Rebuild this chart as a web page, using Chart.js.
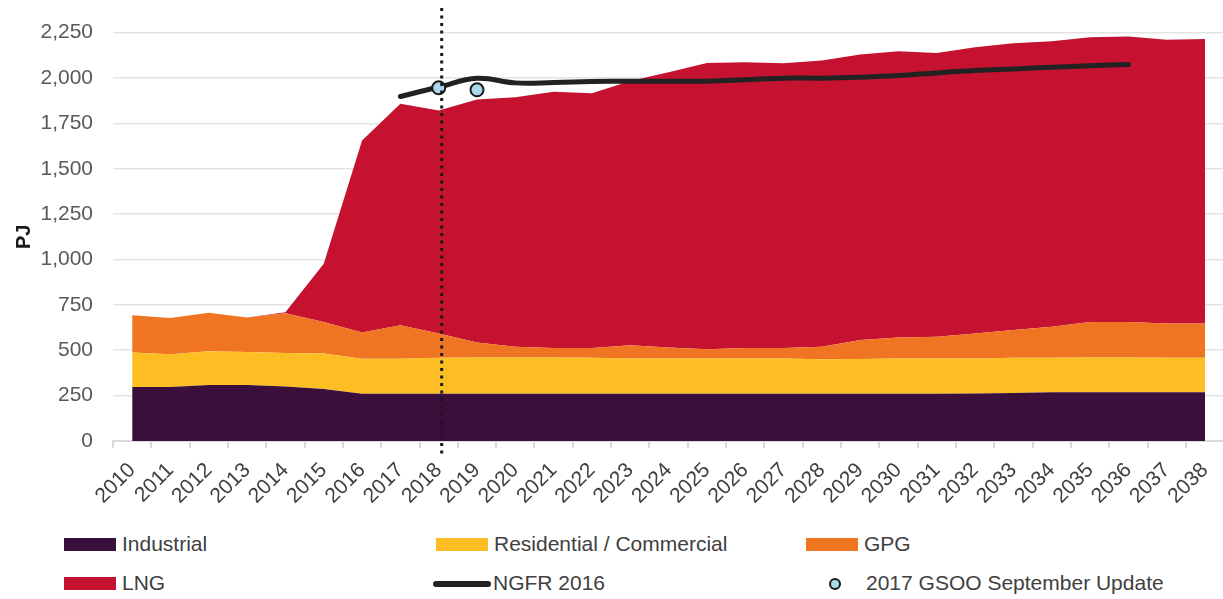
<!DOCTYPE html>
<html>
<head>
<meta charset="utf-8">
<script src="https://cdn.jsdelivr.net/npm/chart.js@4/dist/chart.umd.min.js"></script>
<style>
  body { margin: 0; background: #fff; font-family: "Liberation Sans", Arial, sans-serif; overflow: hidden; }
  #wrap { position: relative; width: 1223px; height: 599px; overflow: hidden; }
  #box { position: absolute; left: 0; top: 0; width: 1233px; height: 515px; }
  .lg { position: absolute; font-size: 21px; color: #404040; white-space: nowrap; line-height: 24px; }
  .sw { position: absolute; }
</style>
</head>
<body>
<div id="wrap">
  <div id="box"><canvas id="myChart"></canvas></div>
  <div id="legend"></div>
</div>
<script>
const years = [];
for (let y = 2010; y <= 2038; y++) years.push(String(y));

const industrial = [297, 297, 308, 308, 300, 286, 260, 260, 260, 260, 260, 260, 260, 260, 260, 260, 260, 260, 260, 260, 260, 260, 262, 265, 268, 268, 268, 268, 268];
const residential = [191, 181, 187, 182, 185, 196, 193, 193, 198, 200, 200, 200, 198, 195, 195, 195, 195, 195, 190, 192, 195, 195, 193, 193, 190, 192, 192, 190, 190];
const gpg = [205, 200, 211, 190, 219, 174, 145, 185, 134, 83, 59, 53, 55, 73, 60, 51, 57, 57, 69, 104, 115, 119, 137, 153, 171, 196, 196, 189, 189];
const lng = [0, 0, 0, 0, 5, 321, 1058, 1220, 1229, 1338, 1375, 1411, 1403, 1455, 1517, 1577, 1575, 1569, 1577, 1573, 1577, 1564, 1577, 1580, 1573, 1568, 1572, 1564, 1568];
const ngfr2016 = [null, null, null, null, null, null, null, 1898, 1950, 1998, 1973, 1975, 1980, 1982, 1982, 1982, 1990, 1999, 1999, 2004, 2013, 2028, 2041, 2050, 2059, 2068, 2074, null, null];
const gsoo2017 = [null, null, null, null, null, null, null, null, 1946, 1935, null, null, null, null, null, null, null, null, null, null, null, null, null, null, null, null, null, null, null];

const dividerYear = '2018';

function area(label, data, color) {
    return {
        label: label,
        data: data,
        backgroundColor: color,
        borderColor: color,
        borderWidth: 0,
        pointRadius: 0,
        fill: label === 'Industrial' ? 'origin' : '-1',
        stack: 'demand',
        order: 2,
        tension: 0
    };
}

const info = {
    labels: years,
    datasets: [
        area('Industrial', industrial, '#3a0f3b'),
        area('Residential / Commercial', residential, '#fdbe23'),
        area('GPG', gpg, '#f07522'),
        area('LNG', lng, '#c41230'),
        {
            label: 'NGFR 2016',
            data: ngfr2016,
            borderColor: '#222222',
            borderWidth: 5,
            borderCapStyle: 'round',
            pointRadius: 0,
            fill: false,
            stack: 'ngfr',
            order: 1,
            tension: 0.4
        },
        {
            label: '2017 GSOO September Update',
            data: gsoo2017,
            showLine: false,
            pointRadius: 6.5,
            pointBackgroundColor: '#a8d8ea',
            pointBorderColor: '#1a1a1a',
            pointBorderWidth: 2,
            fill: false,
            stack: 'gsoo',
            order: 0
        }
    ]
};

const dividerPlugin = {
    id: 'divider',
    afterDatasetsDraw(chart) {
        const x = chart.scales.x.getPixelForValue(years.indexOf(dividerYear)) + 3;
        const ctx = chart.ctx;
        ctx.save();
        ctx.strokeStyle = '#1a1a1a';
        ctx.lineWidth = 3;
        ctx.setLineDash([3, 4.5]);
        ctx.beginPath();
        ctx.moveTo(x, 8);
        ctx.lineTo(x, chart.chartArea.bottom + 17);
        ctx.stroke();
        ctx.restore();
    }
};

const config = {
    type: 'line',
    data: info,
    options: {
        responsive: true,
        maintainAspectRatio: false,
        animation: false,
        layout: { padding: { top: 32, right: 0, left: 0, bottom: 0 } },
        plugins: {
            legend: { display: false },
            tooltip: { enabled: false }
        },
        scales: {
            x: {
                offset: true,
                afterFit: s => { s.height = 74; },
                grid: {
                    offset: true,
                    drawOnChartArea: false,
                    drawTicks: true,
                    tickLength: 7,
                    color: '#d9d9d9',
                    lineWidth: 2
                },
                border: { display: true, color: '#d9d9d9', width: 2 },
                ticks: {
                    autoSkip: false,
                    maxRotation: 45,
                    minRotation: 45,
                    padding: 10,
                    color: '#404040',
                    font: { family: '"Liberation Sans", Arial, sans-serif', size: 21 }
                }
            },
            y: {
                stacked: true,
                min: 0,
                max: 2250,
                afterFit: s => { s.width = 113; },
                grid: { color: '#e4e4e4', lineWidth: 1.5, drawTicks: false },
                border: { display: false },
                title: {
                    display: true,
                    text: 'PJ',
                    color: '#1a1a1a',
                    padding: { top: 12, bottom: 0 },
                    font: { family: '"Liberation Sans", Arial, sans-serif', size: 20, weight: 'bold' }
                },
                ticks: {
                    stepSize: 250,
                    padding: 20,
                    color: '#595959',
                    font: { family: '"Liberation Sans", Arial, sans-serif', size: 21 },
                    callback: v => v.toLocaleString('en-US')
                }
            }
        }
    },
    plugins: [dividerPlugin]
};

const myChart = new Chart(document.getElementById('myChart'), config);

// legend below the chart, three columns
const legendItems = [
    { text: 'Industrial', kind: 'box', color: '#3a0f3b', x: 64, y: 545 },
    { text: 'Residential / Commercial', kind: 'box', color: '#fdbe23', x: 436, y: 545 },
    { text: 'GPG', kind: 'box', color: '#f07522', x: 806, y: 545 },
    { text: 'LNG', kind: 'box', color: '#c41230', x: 64, y: 584 },
    { text: 'NGFR 2016', kind: 'line', color: '#222222', x: 433, y: 584 },
    { text: '2017 GSOO September Update', kind: 'dot', color: '#a8d8ea', x: 829, y: 584 }
];

const legend = document.getElementById('legend');
legendItems.forEach(it => {
    const sw = document.createElement('div');
    sw.className = 'sw';
    let textX;
    if (it.kind === 'box') {
        sw.style.cssText = `left:${it.x}px;top:${it.y - 7}px;width:52px;height:13px;background:${it.color}`;
        textX = it.x + 58;
    } else if (it.kind === 'line') {
        sw.style.cssText = `left:${it.x}px;top:${it.y - 3}px;width:58px;height:6px;border-radius:3px;background:${it.color}`;
        textX = it.x + 60;
    } else {
        sw.style.cssText = `left:${it.x}px;top:${it.y - 6}px;width:8px;height:8px;border-radius:50%;background:${it.color};border:2px solid #1a1a1a`;
        textX = it.x + 37;
    }
    legend.appendChild(sw);
    const t = document.createElement('div');
    t.className = 'lg';
    t.style.left = textX + 'px';
    t.style.top = (it.y - 13) + 'px';
    t.textContent = it.text;
    legend.appendChild(t);
});
</script>
</body>
</html>
